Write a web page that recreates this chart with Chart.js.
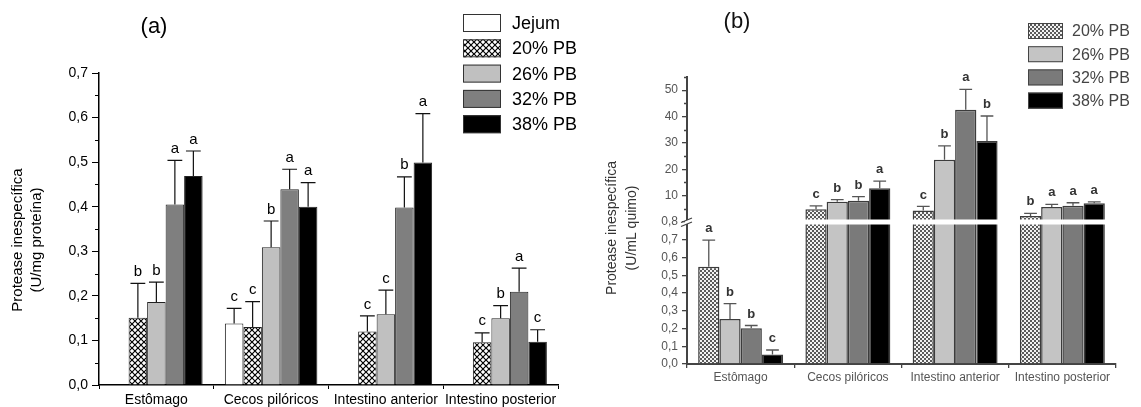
<!DOCTYPE html>
<html lang="pt">
<head>
<meta charset="utf-8">
<title>Protease inespecífica</title>
<script src="https://cdn.jsdelivr.net/npm/chart.js@4.4.1/dist/chart.umd.min.js"></script>
<style>
  body { margin: 0; background: #fff; }
  #wrap { position: relative; width: 1141px; height: 407px; }
  #graficoB { position: absolute; left: 570px; top: 0; }
  #graficoA { position: absolute; left: 0; top: 0; }
</style>
</head>
<body>
<div id="wrap">
  <canvas id="graficoB" width="571" height="407"></canvas>
  <canvas id="graficoA" width="620" height="407"></canvas>
</div>
<script>
// ----------- Dados ------------
const categorias = ["Estômago", "Cecos pilóricos", "Intestino anterior", "Intestino posterior"];

// (a) Protease inespecífica, U/mg proteína
const seriesA = ["Jejum", "20% PB", "26% PB", "32% PB", "38% PB"];
const jejumA = [null, 0.138, null, null];
const pb20A = [0.151, 0.130, 0.120, 0.096];
const pb26A = [0.186, 0.309, 0.159, 0.150];
const pb32A = [0.405, 0.439, 0.398, 0.209];
const pb38A = [0.469, 0.400, 0.499, 0.097];
const jejumErroA = [null, 0.034, null, null];
const pb20ErroA = [0.077, 0.057, 0.035, 0.021];
const pb26ErroA = [0.045, 0.059, 0.054, 0.028];
const pb32ErroA = [0.099, 0.045, 0.069, 0.053];
const pb38ErroA = [0.056, 0.054, 0.110, 0.027];
const jejumLetraA = ["", "c", "", ""];
const pb20LetraA = ["b", "c", "c", "c"];
const pb26LetraA = ["b", "b", "c", "b"];
const pb32LetraA = ["a", "a", "b", "a"];
const pb38LetraA = ["a", "a", "a", "c"];
const ticksA = [0, 0.1, 0.2, 0.3, 0.4, 0.5, 0.6, 0.7];

// (b) Protease inespecífica, U/mL quimo
const seriesB = ["20% PB", "26% PB", "32% PB", "38% PB"];
const pb20B = [0.548, 4.8, 4.4, 2.3];
const pb26B = [0.253, 7.7, 23.6, 5.7];
const pb32B = [0.202, 8.1, 42.6, 6.2];
const pb38B = [0.053, 12.8, 30.7, 7.1];
const pb20ErroB = [0.150, 1.3, 1.5, 1.0];
const pb26ErroB = [0.087, 0.8, 5.3, 1.0];
const pb32ErroB = [0.015, 1.5, 7.7, 1.1];
const pb38ErroB = [0.026, 2.7, 9.5, 0.5];
const pb20LetraB = ["a", "c", "c", "b"];
const pb26LetraB = ["b", "b", "b", "a"];
const pb32LetraB = ["b", "b", "a", "a"];
const pb38LetraB = ["c", "a", "b", "a"];
const corteB = 0.8; // quebra do eixo y
const ticksBaixoB = [0, 0.1, 0.2, 0.3, 0.4, 0.5, 0.6, 0.7, 0.8];
const ticksCimaB = [10, 20, 30, 40, 50];

const fonte = '"Liberation Sans", Arial, sans-serif';
const virgula = (v) => Number(v).toFixed(1).replace(".", ",");
const fixaTicks = (lista) => (s) => { s.ticks = lista.map((v) => ({ value: v })); };

// ----------- Padrões de preenchimento ------------
function hachura() {
  const c = document.createElement("canvas");
  c.width = c.height = 6;
  const g = c.getContext("2d");
  g.fillStyle = "#fff";
  g.fillRect(0, 0, 6, 6);
  g.strokeStyle = "#000";
  g.lineWidth = 1.2;
  g.beginPath();
  g.moveTo(-1, -1); g.lineTo(7, 7);
  g.moveTo(7, -1); g.lineTo(-1, 7);
  g.stroke();
  return g.createPattern(c, "repeat");
}

function pontilhado() {
  const c = document.createElement("canvas");
  c.width = c.height = 4;
  const g = c.getContext("2d");
  g.fillStyle = "#f2f2f2";
  g.fillRect(0, 0, 4, 4);
  g.fillStyle = "#5a5a5a";
  g.fillRect(0, 0, 2, 2);
  g.fillRect(2, 2, 2, 2);
  return g.createPattern(c, "repeat");
}

// ----------- Plugins ------------
const errosPlugin = {
  id: "erros",
  afterDatasetsDraw(chart, args, o) {
    const ctx = chart.ctx;
    chart.data.datasets.forEach((ds, i) => {
      if (!ds.erros) return;
      const meta = chart.getDatasetMeta(i);
      const ys = chart.scales[meta.yAxisID];
      meta.data.forEach((bar, j) => {
        const v = ds.data[j], e = ds.erros[j];
        if (v == null || e == null) return;
        const yTopo = ys.getPixelForValue(v + e);
        const meio = bar.width * o.cap / 2;
        ctx.save();
        ctx.strokeStyle = o.cor;
        ctx.lineWidth = o.largura;
        ctx.beginPath();
        ctx.moveTo(bar.x, bar.y);
        ctx.lineTo(bar.x, yTopo);
        ctx.moveTo(bar.x - meio, yTopo);
        ctx.lineTo(bar.x + meio, yTopo);
        ctx.stroke();
        if (ds.letras && ds.letras[j]) {
          ctx.fillStyle = o.corTexto;
          ctx.font = o.fonte;
          ctx.textAlign = "center";
          ctx.textBaseline = "bottom";
          ctx.fillText(ds.letras[j], bar.x, yTopo - o.gap);
        }
        ctx.restore();
      });
    });
  },
};

const menoresPlugin = {
  id: "menores",
  afterDraw(chart, args, o) {
    const ctx = chart.ctx;
    (o.eixos || []).forEach((e) => {
      const s = chart.scales[e.id];
      ctx.save();
      ctx.strokeStyle = e.cor;
      ctx.lineWidth = e.largura;
      ctx.beginPath();
      for (let k = 1; s.min + k * e.passo <= s.max + 1e-9; k += 2) {
        const y = Math.round(s.getPixelForValue(s.min + k * e.passo)) + 0.5;
        ctx.moveTo(s.right - e.comp, y);
        ctx.lineTo(s.right, y);
      }
      ctx.stroke();
      ctx.restore();
    });
  },
};

const legendaPlugin = {
  id: "legenda",
  afterDraw(chart, args, o) {
    const ctx = chart.ctx;
    ctx.save();
    ctx.font = o.fonte;
    ctx.textAlign = "left";
    ctx.textBaseline = "middle";
    chart.data.datasets.filter((d) => d.naLegenda).forEach((d, i) => {
      const y = o.y + i * o.passo;
      ctx.fillStyle = d.backgroundColor;
      ctx.fillRect(o.x, y, o.w, o.h);
      ctx.strokeStyle = o.borda;
      ctx.lineWidth = 1;
      ctx.strokeRect(o.x + 0.5, y + 0.5, o.w - 1, o.h - 1);
      ctx.fillStyle = o.cor;
      ctx.fillText(d.label, o.textoX, y + o.h / 2 + 1);
    });
    ctx.restore();
  },
};

const textosPlugin = {
  id: "textos",
  afterDraw(chart, args, o) {
    const ctx = chart.ctx;
    ctx.save();
    ctx.textAlign = "center";
    ctx.textBaseline = "middle";
    ctx.fillStyle = o.corPainel;
    ctx.font = o.fontePainel;
    ctx.fillText(o.painel, o.painelX, o.painelY);
    ctx.fillStyle = o.corEixo;
    ctx.font = o.fonteEixo;
    o.eixo.forEach((linha, i) => {
      ctx.save();
      ctx.translate(o.eixoX[i], o.eixoY);
      ctx.rotate(-Math.PI / 2);
      ctx.fillText(linha, 0, 0);
      ctx.restore();
    });
    ctx.restore();
  },
};

const quebraPlugin = {
  id: "quebra",
  afterDraw(chart, args, o) {
    const ctx = chart.ctx;
    const a = chart.chartArea;
    const yb = chart.scales[o.eixo].top;
    ctx.save();
    ctx.fillStyle = "#fff";
    ctx.fillRect(a.left + 1.5, yb - 2.5, a.right - a.left, 5);
    ctx.fillRect(a.left - 2, yb - 2, 4, 4);
    ctx.strokeStyle = o.cor;
    ctx.lineWidth = 1.3;
    ctx.beginPath();
    ctx.moveTo(a.left - 6, yb + 0.5); ctx.lineTo(a.left + 5, yb - 4);
    ctx.moveTo(a.left - 6, yb + 4.5); ctx.lineTo(a.left + 5, yb);
    ctx.stroke();
    ctx.restore();
  },
};

// ----------- Gráfico (a) ------------
const valoresA = [jejumA, pb20A, pb26A, pb32A, pb38A];
const errosA = [jejumErroA, pb20ErroA, pb26ErroA, pb32ErroA, pb38ErroA];
const letrasA = [jejumLetraA, pb20LetraA, pb26LetraA, pb32LetraA, pb38LetraA];
const coresA = ["#fff", hachura(), "#c0c0c0", "#7f7f7f", "#000"];

new Chart(document.getElementById("graficoA"), {
  type: "bar",
  data: {
    labels: categorias,
    datasets: seriesA.map((nome, i) => ({
      label: nome,
      data: valoresA[i],
      erros: errosA[i],
      letras: letrasA[i],
      naLegenda: true,
      backgroundColor: coresA[i],
      borderColor: "#222",
      borderWidth: 1,
      categoryPercentage: 0.806,
      barPercentage: 1,
    })),
  },
  options: {
    responsive: false,
    animation: false,
    layout: { padding: { top: 73, right: 62, left: 0, bottom: 0 } },
    plugins: {
      legend: { display: false },
      tooltip: { enabled: false },
      erros: { cor: "#111", largura: 1.2, cap: 0.8, gap: 4, corTexto: "#000", fonte: "15px " + fonte },
      menores: { eixos: [{ id: "y", passo: 0.05, comp: 4, cor: "#000", largura: 1 }] },
      legenda: { x: 463, y: 14, w: 38, h: 18, passo: 25.3, textoX: 512, fonte: "18px " + fonte, cor: "#000", borda: "#333" },
      textos: {
        painel: "(a)", painelX: 154, painelY: 27, fontePainel: "22px " + fonte, corPainel: "#000",
        eixo: ["Protease inespecífica", "(U/mg proteína)"], eixoX: [17.5, 37], eixoY: 240,
        fonteEixo: "15px " + fonte, corEixo: "#000",
      },
    },
    scales: {
      x: {
        grid: { offset: true, drawOnChartArea: false, tickLength: 4, color: "#000" },
        border: { color: "#000", width: 1.5 },
        ticks: { color: "#000", font: { family: fonte, size: 14 }, padding: 3, autoSkip: false, maxRotation: 0 },
        afterFit: (s) => { s.height = 22; },
      },
      y: {
        min: 0,
        max: 0.7,
        afterBuildTicks: fixaTicks(ticksA),
        ticks: { color: "#000", font: { family: fonte, size: 14 }, padding: 4, autoSkip: false, callback: virgula },
        grid: { drawOnChartArea: false, tickLength: 7, color: "#000" },
        border: { color: "#000", width: 1.5 },
        afterFit: (s) => { s.width = 99; },
      },
    },
  },
  plugins: [errosPlugin, menoresPlugin, legendaPlugin, textosPlugin],
});

// ----------- Gráfico (b), eixo y com quebra ------------
const valoresB = [pb20B, pb26B, pb32B, pb38B];
const errosB = [pb20ErroB, pb26ErroB, pb32ErroB, pb38ErroB];
const letrasB = [pb20LetraB, pb26LetraB, pb32LetraB, pb38LetraB];
const coresB = [pontilhado(), "#c4c4c4", "#7a7a7a", "#000"];

const baseB = (i) => ({
  label: seriesB[i],
  stack: seriesB[i],
  backgroundColor: coresB[i],
  borderColor: "#3c3c3c",
  borderWidth: 1.5,
  categoryPercentage: 0.792,
  barPercentage: 1,
});

const datasetsB = [
  // parte de baixo (0 a 0,8)
  ...valoresB.map((vals, i) => ({
    ...baseB(i),
    yAxisID: "yLow",
    naLegenda: true,
    data: vals.map((v) => Math.min(v, corteB)),
    erros: vals.map((v, j) => (v <= corteB ? errosB[i][j] : null)),
    letras: vals.map((v, j) => (v <= corteB ? letrasB[i][j] : "")),
  })),
  // parte de cima (acima da quebra)
  ...valoresB.map((vals, i) => ({
    ...baseB(i),
    yAxisID: "yUp",
    data: vals.map((v) => (v > corteB ? v : null)),
    erros: vals.map((v, j) => (v > corteB ? errosB[i][j] : null)),
    letras: vals.map((v, j) => (v > corteB ? letrasB[i][j] : "")),
  })),
];

const cinza = "#444";
const ticksB = { color: "#555", font: { family: fonte, size: 12 }, padding: 4, autoSkip: false };

new Chart(document.getElementById("graficoB"), {
  type: "bar",
  data: { labels: categorias, datasets: datasetsB },
  options: {
    responsive: false,
    animation: false,
    layout: { padding: { top: 77, right: 25, left: 0, bottom: 0 } },
    plugins: {
      legend: { display: false },
      tooltip: { enabled: false },
      erros: { cor: "#555", largura: 1.3, cap: 0.6, gap: 5, corTexto: "#333", fonte: "bold 13px " + fonte },
      menores: { eixos: [{ id: "yUp", passo: 5, comp: 3, cor: cinza, largura: 1.3 }] },
      legenda: { x: 458, y: 23, w: 35, h: 16, passo: 23.2, textoX: 502, fonte: "16px " + fonte, cor: "#444", borda: "#444" },
      textos: {
        painel: "(b)", painelX: 167, painelY: 22, fontePainel: "22px " + fonte, corPainel: "#111",
        eixo: ["Protease inespecífica", "(U/mL quimo)"], eixoX: [42, 62], eixoY: 228,
        fonteEixo: "14px " + fonte, corEixo: "#333",
      },
      quebra: { eixo: "yLow", cor: cinza },
    },
    scales: {
      x: {
        grid: { offset: true, drawOnChartArea: false, tickLength: 4, color: cinza, lineWidth: 1.3 },
        border: { color: cinza, width: 2 },
        ticks: { ...ticksB, padding: 2, maxRotation: 0 },
        afterFit: (s) => { s.height = 43; },
      },
      // a escala definida primeiro fica embaixo na pilha
      yLow: {
        type: "linear",
        position: "left",
        stack: "b",
        stackWeight: 142,
        min: 0,
        max: corteB,
        afterBuildTicks: fixaTicks(ticksBaixoB),
        ticks: { ...ticksB, callback: virgula },
        grid: { drawOnChartArea: false, tickLength: 5, lineWidth: 1.3, color: cinza },
        border: { color: cinza, width: 2 },
        afterFit: (s) => { s.width = 117; },
      },
      yUp: {
        type: "linear",
        position: "left",
        stack: "b",
        stackWeight: 145,
        min: 0,
        max: 55,
        afterBuildTicks: fixaTicks(ticksCimaB),
        ticks: { ...ticksB },
        grid: { drawOnChartArea: false, tickLength: 5, lineWidth: 1.3, color: cinza },
        border: { color: cinza, width: 2 },
        afterFit: (s) => { s.width = 117; },
      },
    },
  },
  plugins: [quebraPlugin, errosPlugin, menoresPlugin, legendaPlugin, textosPlugin],
});
</script>
</body>
</html>
